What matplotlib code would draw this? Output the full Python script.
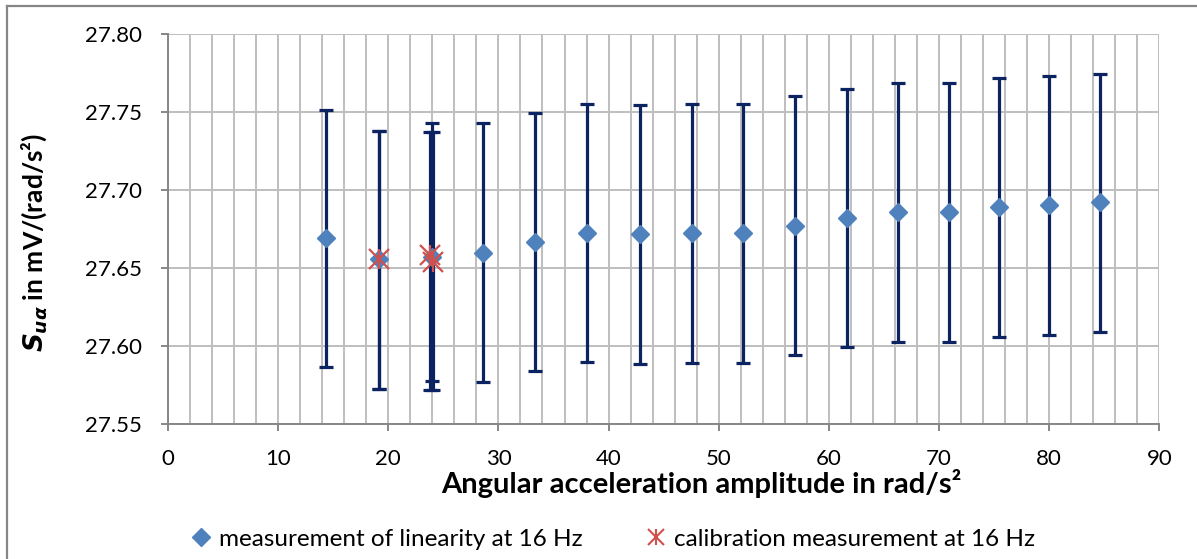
import matplotlib.pyplot as plt
from matplotlib.lines import Line2D
from matplotlib.legend_handler import HandlerTuple

# linearity measurement (x, sensitivity, upper / lower bound of the error bar)
lin_x = [14.35, 19.14, 23.98, 28.62, 33.36, 38.08, 42.81, 47.57, 52.22, 56.92,
         61.62, 66.24, 70.87, 75.45, 80.02, 84.59]
lin_y = [27.6692, 27.6558, 27.6574, 27.6600, 27.6667, 27.6728, 27.6718, 27.6726,
         27.6726, 27.6773, 27.6824, 27.6861, 27.6861, 27.6893, 27.6908, 27.6921]
lin_hi = [27.7515, 27.7380, 27.7429, 27.7430, 27.7494, 27.7553, 27.7545, 27.7553,
          27.7553, 27.7603, 27.7649, 27.7686, 27.7686, 27.7720, 27.7735, 27.7747]
lin_lo = [27.5863, 27.5724, 27.5773, 27.5771, 27.5837, 27.5899, 27.5887, 27.5893,
          27.5893, 27.5942, 27.5991, 27.6029, 27.6028, 27.6060, 27.6074, 27.6090]

# calibration measurement
cal_x = [19.14, 23.80, 24.05]
cal_y = [27.6558, 27.6585, 27.6542]
cal_hi = [27.7380, 27.7375, 27.7375]
cal_lo = [27.5724, 27.5720, 27.5720]

x_ticks = list(range(0, 91, 10))
y_ticks = [27.55, 27.60, 27.65, 27.70, 27.75, 27.80]

plt.rcParams['font.family'] = ['Lato', 'DejaVu Sans']
plt.rcParams['mathtext.fontset'] = 'custom'
plt.rcParams['mathtext.it'] = 'DejaVu Sans:italic:bold'
plt.rcParams['mathtext.rm'] = 'Lato:bold'

navy = '#0B2461'
blue = '#4F81BD'
red = '#D0504D'
grid_c = '#BEBEBE'
axis_c = '#868686'

fig = plt.figure(figsize=(11.97, 5.59), dpi=100)
ax = fig.add_axes([168 / 1197, 1 - 424 / 559, (1159.3 - 168) / 1197, (424 - 34.3) / 559])

def bars(xs, ys, hi, lo):
    ax.errorbar(xs, ys, yerr=[[y - l for y, l in zip(ys, lo)], [h - y for y, h in zip(ys, hi)]],
                fmt='none', ecolor=navy, elinewidth=2.3, capsize=4.8, capthick=2.3, zorder=2)

bars(lin_x, lin_y, lin_hi, lin_lo)
bars(cal_x, cal_y, cal_hi, cal_lo)
ax.plot(lin_x, lin_y, 'D', color=blue, ms=9.5, mec=blue, zorder=3, linestyle='none')
ax.plot(cal_x, cal_y, 'x', color=red, ms=15, mew=1.6, zorder=4, linestyle='none')
ax.plot(cal_x, cal_y, '|', color=red, ms=15, mew=1.6, zorder=4, linestyle='none')

ax.set_xlim(0, 90)
ax.set_ylim(27.55, 27.80)
ax.set_xticks(x_ticks)
ax.set_xticks(range(0, 91, 2), minor=True)
ax.set_yticks(y_ticks)
ax.set_yticklabels([f'{v:.2f}' for v in y_ticks])
ax.grid(True, which='both', axis='x', color=grid_c, lw=1.4)
ax.grid(True, which='major', axis='y', color=grid_c, lw=1.4)
ax.set_axisbelow(True)
for s in ['top', 'right']:
    ax.spines[s].set_visible(False)
for s in ['left', 'bottom']:
    ax.spines[s].set_color(axis_c)
    ax.spines[s].set_linewidth(1.4)
ax.tick_params(which='major', direction='out', length=5, width=1.4, color=axis_c,
               labelsize=16, labelcolor='black')
ax.tick_params(axis='x', pad=13)
ax.tick_params(axis='y', pad=14)
ax.tick_params(which='minor', length=0)

fig.text(701 / 1197, 1 - 484 / 559, 'Angular acceleration amplitude in rad/s²',
         ha='center', va='center', fontsize=21, fontweight='bold')
fig.text(34 / 1197, 1 - 242 / 559, r'$S_{u\alpha}$ in mV/(rad/s²)', rotation=90,
         ha='center', va='center', fontsize=19, fontweight='bold')

h1 = Line2D([], [], marker='D', color=blue, ms=9, linestyle='none')
h2a = Line2D([], [], marker='x', color=red, ms=12, mew=1.5, linestyle='none')
h2b = Line2D([], [], marker='|', color=red, ms=12, mew=1.5, linestyle='none')
fig.legend([h1, (h2a, h2b)], ['measurement of linearity at 16 Hz', 'calibration measurement at 16 Hz'],
           handler_map={tuple: HandlerTuple(ndivide=1)},
           loc='center', bbox_to_anchor=(613 / 1197, 1 - 539 / 559), ncol=2, frameon=False,
           fontsize=17.5, handlelength=0.8, handletextpad=0.35, columnspacing=2.6,
           borderpad=0, borderaxespad=0)

# chart area border (only left and top edges visible)
fig.add_artist(Line2D([7 / 1197, 7 / 1197], [0, 1 - 6 / 559], transform=fig.transFigure,
                      color=axis_c, lw=1.6))
fig.add_artist(Line2D([7 / 1197, 1], [1 - 6 / 559, 1 - 6 / 559], transform=fig.transFigure,
                      color=axis_c, lw=1.6))

fig.savefig('out.png', dpi=100)
